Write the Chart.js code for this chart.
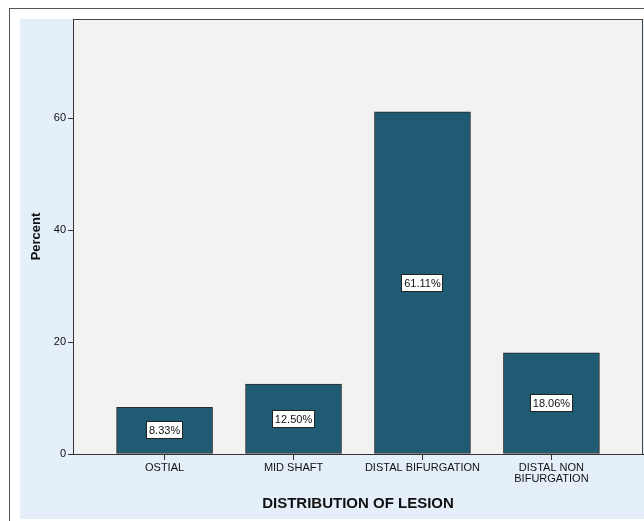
<!DOCTYPE html>
<html>
<head>
<meta charset="utf-8">
<script src="https://cdn.jsdelivr.net/npm/chart.js@4/dist/chart.umd.min.js"></script>
<style>
  body { margin: 0; background: #ffffff; }
  #wrap { width: 644px; height: 521px; position: relative; }
</style>
</head>
<body>
<div id="wrap"><canvas id="barLesion"></canvas></div>
<script>
// datos del grafico
var categorias = ["OSTIAL", "MID SHAFT", "DISTAL BIFURGATION", ["DISTAL NON", "BIFURGATION"]];
var porcentajes = [8.33, 12.50, 61.11, 18.06];
var ticksY = [0, 20, 40, 60];

// fondo estilo SPSS: marco, zona azul y area gris
var fondoPlugin = {
  id: "fondo",
  beforeDraw: function (chart) {
    var ctx = chart.ctx;
    var a = chart.chartArea;
    ctx.save();
    ctx.fillStyle = "#ffffff";
    ctx.fillRect(0, 0, chart.width, chart.height);
    ctx.strokeStyle = "#555555";
    ctx.lineWidth = 1;
    ctx.strokeRect(9.5, 8.5, chart.width, chart.height);
    ctx.fillStyle = "#e5eff9";
    ctx.fillRect(20, 19, chart.width - 20, 500);
    ctx.fillStyle = "#f2f2f2";
    ctx.fillRect(a.left, a.top, a.right - a.left, a.bottom - a.top);
    ctx.strokeStyle = "#444444";
    ctx.strokeRect(a.left + 0.5, a.top + 0.5, a.right - a.left - 1, a.bottom - a.top);
    ctx.restore();
  }
};

// etiquetas con el porcentaje dentro de cada barra
var etiquetasPlugin = {
  id: "etiquetas",
  afterDatasetsDraw: function (chart) {
    var ctx = chart.ctx;
    var meta = chart.getDatasetMeta(0);
    ctx.save();
    ctx.font = "11px Arial, 'Liberation Sans', sans-serif";
    ctx.textAlign = "center";
    ctx.textBaseline = "middle";
    meta.data.forEach(function (bar, i) {
      var texto = porcentajes[i].toFixed(2) + "%";
      var w = ctx.measureText(texto).width + 6;
      var h = 18;
      var cx = bar.x;
      var cy = (bar.y + bar.base) / 2;
      ctx.fillStyle = "#ffffff";
      ctx.fillRect(Math.round(cx - w / 2), Math.round(cy - h / 2), Math.round(w), h);
      ctx.strokeStyle = "#222222";
      ctx.lineWidth = 1;
      ctx.strokeRect(Math.round(cx - w / 2) + 0.5, Math.round(cy - h / 2) + 0.5, Math.round(w) - 1, h - 1);
      ctx.fillStyle = "#111111";
      ctx.fillText(texto, cx, cy + 1);
    });
    ctx.restore();
  }
};

var puntos = porcentajes.map(function (v, i) {
  return { x: i, y: v };
});

var config = {
  type: "bar",
  data: {
    datasets: [
      {
        label: "Percent",
        data: puntos,
        backgroundColor: "#1f5b72",
        borderColor: "#2a2a2a",
        borderWidth: 1,
        borderSkipped: false,
        barThickness: 96
      }
    ]
  },
  options: {
    responsive: true,
    maintainAspectRatio: false,
    animation: false,
    layout: { padding: { top: 19, right: 1, left: 0, bottom: 0 } },
    plugins: {
      legend: { display: false },
      tooltip: { enabled: false }
    },
    scales: {
      x: {
        type: "linear",
        min: -0.71,
        max: 3.71,
        offset: false,
        afterBuildTicks: function (scale) {
          scale.ticks = categorias.map(function (c, i) { return { value: i }; });
        },
        afterFit: function (scale) { scale.height = 67; },
        ticks: {
          autoSkip: false,
          maxRotation: 0,
          padding: 2,
          color: "#111111",
          font: { family: "Arial, 'Liberation Sans', sans-serif", size: 11, lineHeight: 1.0 },
          callback: function (value) { return categorias[value]; }
        },
        grid: { drawOnChartArea: false, offset: false, tickLength: 6, color: "#333333" },
        border: { color: "#333333", width: 1 },
        title: {
          display: true,
          text: "DISTRIBUTION OF LESION",
          color: "#111111",
          font: { family: "Arial, 'Liberation Sans', sans-serif", size: 15, weight: "bold" },
          padding: { top: 0, bottom: 8 }
        }
      },
      y: {
        min: 0,
        max: 77.7,
        afterBuildTicks: function (scale) {
          scale.ticks = ticksY.map(function (v) { return { value: v }; });
        },
        afterFit: function (scale) { scale.width = 73; },
        ticks: {
          padding: 2,
          color: "#111111",
          font: { family: "Arial, 'Liberation Sans', sans-serif", size: 11 }
        },
        grid: { drawOnChartArea: false, tickLength: 5, color: "#333333" },
        border: { color: "#333333", width: 1 },
        title: {
          display: true,
          text: "Percent",
          color: "#111111",
          font: { family: "Arial, 'Liberation Sans', sans-serif", size: 13, weight: "bold" },
          padding: { top: 29, bottom: 0 }
        }
      }
    }
  },
  plugins: [fondoPlugin, etiquetasPlugin]
};

var grafico = new Chart(document.getElementById("barLesion").getContext("2d"), config);
</script>
</body>
</html>
